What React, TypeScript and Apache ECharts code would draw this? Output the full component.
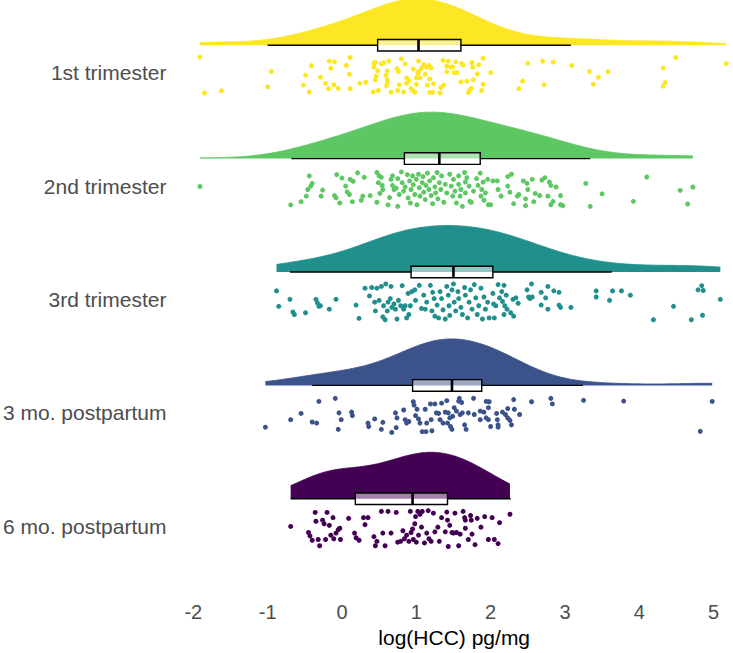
import { useEffect, useRef } from "react";
import * as echarts from "echarts";

const groups = ["1st trimester", "2nd trimester", "3rd trimester", "3 mo. postpartum", "6 mo. postpartum"];
const colors = ["#FDE725", "#5DC863", "#21908C", "#3B528B", "#440154"];

// each point: [log(HCC), vertical jitter from -1 (top) to 1 (bottom)]
const firstTrimester = [
  [-1.91, -1.0], [-1.85, 1.0], [-1.62, 0.88], [-1.0, 0.66], [-0.95, -0.2], [-0.52, 0.56], [-0.49, 0], [-0.44, 0.94],
  [-0.41, -0.52], [-0.29, 0.12], [-0.22, 0.46], [-0.18, 0.76], [-0.17, -0.78], [-0.15, -0.38], [-0.1, -0.74], [-0.11, 0.54],
  [-0.05, 0.74], [0.06, -0.54], [0.1, -0.04], [0.11, -0.98], [0.11, 0.76], [0.24, 0.46], [0.32, 0.4], [0.42, 0.94],
  [0.43, -0.66], [0.45, -0.7], [0.43, -0.44], [0.46, 0.06], [0.45, 0.26], [0.48, -0.24], [0.49, 0.86], [0.53, -0.62],
  [0.56, -0.68], [0.59, 0.02], [0.6, 0.6], [0.61, -0.22], [0.61, 0.26], [0.61, 0.42], [0.63, -0.78], [0.66, 0.96],
  [0.74, -0.36], [0.75, 0.86], [0.76, -0.2], [0.77, 0.54], [0.8, -0.9], [0.83, 0.94], [0.85, -0.62], [0.87, 0.16],
  [0.87, 0.46], [0.9, 0.32], [0.93, 0.76], [0.95, 0.86], [0.96, -0.34], [0.98, 0.96], [1.0, 0.52], [1.0, 0.16],
  [1.02, -0.08], [1.03, -0.78], [1.03, -0.2], [1.05, 0.16], [1.07, -0.38], [1.1, -0.58], [1.12, -0.04], [1.14, -0.44],
  [1.15, 0.56], [1.17, -0.54], [1.18, 0.22], [1.18, 0.98], [1.2, -0.4], [1.22, 0.96], [1.23, 0.48], [1.32, 1.0],
  [1.33, 0.7], [1.36, -0.82], [1.37, 0.56], [1.41, -0.5], [1.41, -0.18], [1.43, -0.78], [1.46, -0.44], [1.49, -0.46],
  [1.51, -0.14], [1.53, -0.74], [1.55, -0.14], [1.6, 0.38], [1.61, -0.64], [1.63, -0.56], [1.68, 0.34], [1.7, 0.98],
  [1.72, 0.82], [1.74, 0.74], [1.75, -0.7], [1.76, -0.44], [1.77, 0.26], [1.82, -0.06], [1.84, -0.58], [1.88, 0.86],
  [1.9, -0.94], [1.9, 0.52], [2.0, -0.14], [2.38, 0.76], [2.43, 0.34], [2.5, -0.66], [2.7, -0.78], [2.72, 0.54],
  [2.84, -0.72], [3.09, -0.54], [3.33, -0.2], [3.38, 0.52], [3.45, 0.12], [3.58, -0.18], [4.32, -0.4], [4.32, 0.62],
  [4.35, 0.42], [4.49, -0.98], [5.17, -0.64],
];

const secondTrimester = [
  [-1.91, -0.11], [-0.69, 0.92], [-0.55, 0.74], [-0.48, 0.43], [-0.46, 0.06], [-0.44, -0.7], [-0.42, -0.13], [-0.4, -0.28],
  [-0.28, 0.43], [-0.26, 0.09], [-0.1, 0.4], [-0.07, -0.77], [-0.08, 0.53], [-0.03, 0.81], [0.0, -0.58], [0.05, -0.13],
  [0.07, 0.19], [0.1, 0.34], [0.11, -0.51], [0.14, 0.74], [0.15, -0.4], [0.21, -0.87], [0.26, 0.66], [0.28, 0.43],
  [0.3, -0.62], [0.38, 0.4], [0.47, -0.89], [0.47, 0.77], [0.49, -0.32], [0.5, -0.7], [0.51, 0.28], [0.53, -0.62],
  [0.54, -0.17], [0.55, 0.06], [0.62, 0.92], [0.64, 0.51], [0.66, -0.51], [0.68, -0.17], [0.68, -0.7], [0.7, 0.06],
  [0.73, -0.02], [0.75, 1.0], [0.75, -0.55], [0.77, 0.34], [0.8, -0.92], [0.81, -0.32], [0.83, 0.15], [0.85, -0.09],
  [0.88, -0.77], [0.89, 0.53], [0.91, -0.42], [0.92, 0.81], [0.93, 0.06], [0.95, -0.7], [0.96, -0.21], [0.98, 0.34],
  [1.0, -0.51], [1.01, 0.91], [1.03, -0.79], [1.04, -0.04], [1.05, 0.43], [1.08, -0.32], [1.09, -0.66], [1.1, 0.21],
  [1.12, 0.62], [1.13, -0.17], [1.15, -0.85], [1.17, 0.06], [1.18, -0.42], [1.2, 0.4], [1.22, 0.85], [1.23, -0.6],
  [1.25, -0.09], [1.26, 0.25], [1.28, -0.89], [1.29, 0.58], [1.31, -0.32], [1.33, 0.06], [1.34, -0.7], [1.37, 0.77],
  [1.39, -0.23], [1.41, 0.25], [1.45, -0.79], [1.47, -0.13], [1.49, 0.43], [1.5, -0.51], [1.52, 0.15], [1.54, 0.81],
  [1.57, -0.7], [1.57, -0.23], [1.59, 0.43], [1.6, 0.06], [1.62, 1.0], [1.65, -0.89], [1.66, -0.36], [1.66, 0.25],
  [1.68, -0.6], [1.71, -0.13], [1.72, 0.72], [1.74, 0.77], [1.77, 0.15], [1.81, -0.55], [1.83, -0.17], [1.86, -0.85],
  [1.87, 0.43], [1.88, 0.06], [1.9, -0.36], [1.91, 0.66], [1.93, 0.25], [1.96, -0.51], [1.97, 0.91], [2.0, 0.91],
  [2.03, -0.42], [2.09, -0.42], [2.1, 0.06], [2.14, 0.43], [2.23, -0.66], [2.23, -0.13], [2.26, 0.21], [2.28, -0.79],
  [2.31, 0.85], [2.36, 0.43], [2.38, 0.34], [2.44, -0.42], [2.47, 0.58], [2.47, 0.96], [2.49, -0.28], [2.5, 0.06],
  [2.56, -0.51], [2.58, 0.74], [2.6, 0.28], [2.66, 0.4], [2.69, -0.47], [2.73, -0.6], [2.77, 0.43], [2.79, -0.36],
  [2.81, -0.17], [2.81, 0.91], [2.84, 0.72], [2.88, -0.08], [2.94, 0.4], [2.94, 0.91], [2.97, 0.96], [3.28, -0.28],
  [3.34, 1.0], [3.5, 0.3], [3.92, 0.72], [4.1, -0.64], [4.55, 0.11], [4.65, 0.87], [4.72, -0.08],
];

const thirdTrimester = [
  [-0.88, -0.61], [-0.85, 0.25], [-0.7, -0.14], [-0.66, 0.57], [-0.64, 0.71], [-0.49, 0.61], [-0.35, -0.14], [-0.33, 0.06],
  [-0.31, 0.25], [-0.29, 0.22], [-0.17, 0.41], [-0.08, -0.14], [0.19, 0.18], [0.23, 0.92], [0.31, -0.76], [0.37, -0.33],
  [0.4, -0.8], [0.44, 0.02], [0.45, 0.51], [0.47, -0.76], [0.5, -0.08], [0.53, -0.86], [0.55, 0.84], [0.56, 0.22],
  [0.58, 1.0], [0.59, -1.0], [0.61, 0.51], [0.62, 0.02], [0.65, -0.18], [0.66, -0.86], [0.67, 0.31], [0.7, 0.12],
  [0.72, 0.41], [0.74, 0.96], [0.76, -0.08], [0.79, 0.22], [0.81, -0.9], [0.83, 0.41], [0.85, 0.22], [0.87, 0.9],
  [0.89, -0.47], [0.9, 0.71], [0.92, 0.22], [0.94, -0.57], [0.98, -0.67], [0.99, -0.08], [1.04, -0.92], [1.07, 0.37],
  [1.1, -0.37], [1.12, 0.41], [1.14, 0.02], [1.19, -0.92], [1.21, 0.51], [1.22, -0.53], [1.24, -0.18], [1.25, 0.8],
  [1.28, 0.18], [1.3, 0.9], [1.32, -0.57], [1.34, -0.18], [1.36, 0.45], [1.39, 0.96], [1.41, -0.86], [1.43, -0.37],
  [1.44, 0.22], [1.45, 0.76], [1.48, -0.67], [1.5, -1.0], [1.51, 0.02], [1.53, 0.51], [1.56, -0.57], [1.57, -0.18],
  [1.6, 0.31], [1.62, 0.71], [1.65, -0.8], [1.66, -0.37], [1.69, 0.9], [1.71, 0.02], [1.73, -0.67], [1.75, 0.41],
  [1.78, -0.96], [1.8, -0.22], [1.82, 0.71], [1.84, 0.22], [1.87, -0.76], [1.89, 0.96], [1.91, -0.27], [1.93, 0.41],
  [1.96, 0.02], [1.98, 0.9], [2.03, -0.47], [2.04, 0.12], [2.05, 0.9], [2.07, 0.22], [2.1, -0.96], [2.12, -0.22],
  [2.15, -0.57], [2.16, -0.02], [2.18, -0.92], [2.18, 0.71], [2.19, 0.22], [2.21, -0.37], [2.22, 0.41], [2.27, 0.61],
  [2.3, -0.14], [2.31, 0.8], [2.34, -0.22], [2.37, 0.08], [2.49, -0.67], [2.51, -0.27], [2.53, -0.18], [2.55, -1.0],
  [2.56, -0.27], [2.68, -0.53], [2.68, 0.18], [2.74, -0.22], [2.77, -0.86], [2.77, 0.41], [2.85, -0.61], [2.92, -0.53],
  [2.92, 0.18], [2.94, 0.31], [3.08, 0.31], [3.42, -0.61], [3.42, -0.27], [3.6, -0.08], [3.64, -0.61], [3.76, -0.61],
  [3.88, -0.37], [4.19, 1.0], [4.46, 0.25], [4.7, 1.0], [4.79, -0.67], [4.84, -0.9], [4.86, -0.63], [4.85, 0.75],
  [5.09, -0.14],
];

const threeMonths = [
  [-1.03, 0.67], [-0.69, 0.25], [-0.55, -0.1], [-0.4, 0.38], [-0.34, 0.44], [-0.31, -0.77], [-0.09, -0.94], [-0.05, 0.79],
  [-0.04, -0.13], [-0.01, 0.25], [0.13, -0.17], [0.14, 0.02], [0.35, 0.44], [0.36, 0.63], [0.44, 0.21], [0.53, 0.79],
  [0.55, 0.4], [0.67, 0.96], [0.72, -0.13], [0.73, 0.69], [0.74, 0.15], [0.83, -0.29], [0.85, 0.25], [0.87, 0.44],
  [0.9, 0.35], [0.96, -0.75], [0.97, -0.56], [0.99, 0.02], [1.01, -0.33], [1.03, 0.21], [1.05, 0.44], [1.08, 0.92],
  [1.12, -0.33], [1.13, 0.92], [1.14, 0.44], [1.19, -0.63], [1.2, 0.25], [1.21, 0.87], [1.25, -0.63], [1.27, -0.13],
  [1.3, -0.1], [1.32, 0.25], [1.34, -0.67], [1.36, 0.44], [1.39, -0.17], [1.41, -0.81], [1.42, 0.44], [1.43, -0.13],
  [1.45, 0.15], [1.46, 0.63], [1.48, 0.79], [1.49, 0.06], [1.51, -0.42], [1.54, -0.23], [1.57, -0.79], [1.58, -0.94],
  [1.59, -0.04], [1.61, -0.71], [1.62, -0.13], [1.65, 0.54], [1.67, 0.79], [1.7, -0.13], [1.77, -0.94], [1.78, -0.04],
  [1.86, -0.23], [1.86, 0.25], [1.94, -0.77], [1.98, -0.75], [1.97, -0.42], [1.91, -0.17], [1.94, 0.15], [1.97, 0.25],
  [2.0, 0.63], [2.08, -0.1], [2.09, 0.25], [2.1, 0.54], [2.1, 0.67], [2.16, -0.17], [2.2, -0.04], [2.23, -0.37],
  [2.23, 0.15], [2.26, 0.29], [2.28, 0.54], [2.31, -0.87], [2.32, -0.33], [2.39, -0.04], [2.55, -0.75], [2.81, -0.94],
  [2.83, -0.63], [3.25, -0.83], [3.79, -0.79], [4.82, 0.9], [4.98, -0.77],
];

const sixMonths = [
  [-0.69, -0.12], [-0.45, 0.22], [-0.43, 0.41], [-0.4, 0.65], [-0.36, -0.9], [-0.35, -0.41], [-0.32, 0.61], [-0.3, 0.96],
  [-0.26, -0.47], [-0.24, -0.27], [-0.22, 0.61], [-0.2, -0.9], [-0.17, -0.18], [-0.15, 0.37], [-0.12, -0.61], [-0.11, 0.57],
  [-0.08, 0.25], [-0.05, 0.06], [-0.03, -0.02], [-0.02, 0.61], [0.09, -0.57], [0.17, 0.25], [0.19, 0.51], [0.23, 0.65],
  [0.29, -0.61], [0.31, -0.22], [0.35, -0.61], [0.43, 0.45], [0.45, 0.96], [0.47, 0.71], [0.53, -0.96], [0.55, 0.25],
  [0.58, 0.96], [0.62, -0.96], [0.66, 0.25], [0.73, -0.9], [0.75, 0.76], [0.79, 0.71], [0.82, 0.12], [0.84, 0.57],
  [0.87, 0.37], [0.9, 0.71], [0.92, -0.96], [0.93, 0.22], [0.95, 0.02], [0.96, 0.61], [0.98, -0.27], [0.99, -0.67],
  [1.0, 0.76], [1.02, -0.96], [1.03, 0.37], [1.05, -0.8], [1.07, -0.08], [1.08, -0.96], [1.11, 0.8], [1.14, 0.25],
  [1.16, -1.0], [1.17, 0.57], [1.2, 0.71], [1.23, -0.86], [1.25, 0.18], [1.29, -0.08], [1.31, 0.71], [1.34, -0.61],
  [1.39, 0.18], [1.41, -0.92], [1.42, -0.47], [1.43, 1.0], [1.45, -0.18], [1.48, 0.22], [1.5, 0.25], [1.52, -0.86],
  [1.54, 0.22], [1.57, 0.96], [1.59, 0.31], [1.63, -0.96], [1.65, -0.61], [1.66, -0.47], [1.66, -0.02], [1.7, 0.61],
  [1.73, -0.73], [1.74, -0.47], [1.75, 0.31], [1.79, 0.9], [1.82, -0.57], [1.87, -0.08], [1.92, -0.67], [1.97, 0.61],
  [2.02, -0.61], [2.05, 0.61], [2.1, 0.84], [2.12, -0.33], [2.26, -0.8],
];

const groupPoints = [firstTrimester, secondTrimester, thirdTrimester, threeMonths, sixMonths];

// box plot statistics
const boxLow = [-1.0, -0.68, -0.7, -0.4, -0.69];
const boxQ1 = [0.48, 0.84, 0.93, 0.95, 0.18];
const boxMedian = [1.03, 1.31, 1.5, 1.48, 0.95];
const boxQ3 = [1.6, 1.86, 2.03, 1.88, 1.42];
const boxHigh = [3.08, 3.34, 3.63, 3.24, 2.27];

const FONT = "'Liberation Sans', Arial, Helvetica, sans-serif";
const BASE_OFF = 0.243; // density baseline above the label row
const PT_OFF = -0.02; // centre of the jittered points
const JITTER = 0.158; // half-height of the rain
const CLOUD_H = 0.41; // height of the density cloud
const ADJUST = 1.5;

// gaussian kernel density, trimmed to the data range (like ggplot's trim = TRUE)
function density(values: number[], n = 160) {
  const s = [...values].sort((a, b) => a - b);
  const N = s.length;
  const mean = s.reduce((a, b) => a + b, 0) / N;
  const sd = Math.sqrt(s.reduce((a, b) => a + (b - mean) ** 2, 0) / (N - 1));
  const q = (p: number) => {
    const h = (N - 1) * p;
    const lo = Math.floor(h);
    return s[lo] + (h - lo) * ((s[lo + 1] ?? s[lo]) - s[lo]);
  };
  const iqr = q(0.75) - q(0.25);
  const bw = 0.9 * Math.min(sd, iqr / 1.34) * Math.pow(N, -0.2) * ADJUST;
  const out: number[][] = [];
  for (let i = 0; i < n; i++) {
    const x = s[0] + ((s[N - 1] - s[0]) * i) / (n - 1);
    let d = 0;
    for (const v of s) d += Math.exp(-0.5 * ((x - v) / bw) ** 2);
    out.push([x, d / (N * bw * Math.sqrt(2 * Math.PI))]);
  }
  return out;
}

const App = () => {
  const chartRef = useRef<HTMLDivElement>(null);

  useEffect(() => {
    if (!chartRef.current) return;
    const chart = echarts.init(chartRef.current, null, { renderer: "svg" });

    const row = (i: number) => groups.length - 1 - i;

    const clouds = groupPoints.map((pts, i) => {
      const base = row(i) + BASE_OFF;
      const dens = density(pts.map((p) => p[0]));
      const maxD = Math.max(...dens.map((d) => d[1]));
      return {
        type: "line",
        data: dens.map(([x, d]) => [x, base + (d / maxD) * CLOUD_H]),
        showSymbol: false,
        silent: true,
        clip: false,
        z: 1,
        lineStyle: { color: colors[i], width: 0.8 },
        areaStyle: { color: colors[i], opacity: 1, origin: base },
      };
    });

    const rain = groupPoints.map((pts, i) => ({
      type: "scatter",
      data: pts.map(([x, j]) => [x, row(i) + PT_OFF - j * JITTER]),
      symbolSize: 5,
      silent: true,
      clip: false,
      z: 2,
      itemStyle: { color: colors[i], opacity: 1 },
    }));

    const boxes = {
      type: "custom",
      z: 3,
      silent: true,
      clip: false,
      encode: { x: [1, 2, 3, 4, 5], y: 0 },
      data: groups.map((_, i) => [row(i), boxLow[i], boxQ1[i], boxMedian[i], boxQ3[i], boxHigh[i]]),
      renderItem: (_params: any, api: any) => {
        const base = api.value(0) + BASE_OFF;
        const px = (k: number) => api.coord([api.value(k), base]);
        const [xLo, y] = px(1);
        const [xQ1] = px(2);
        const [xMed] = px(3);
        const [xQ3] = px(4);
        const [xHi] = px(5);
        const hh = 5.8;
        const stroke = { stroke: "#000", lineWidth: 1.3 };
        return {
          type: "group",
          children: [
            { type: "line", shape: { x1: xLo, y1: y, x2: xQ1, y2: y }, style: stroke },
            { type: "line", shape: { x1: xQ3, y1: y, x2: xHi, y2: y }, style: stroke },
            {
              type: "rect",
              shape: { x: xQ1, y: y - hh, width: xQ3 - xQ1, height: hh * 2 },
              style: { fill: "rgba(255,255,255,0.5)", stroke: "#000", lineWidth: 1.4 },
            },
            { type: "line", shape: { x1: xMed, y1: y - hh, x2: xMed, y2: y + hh }, style: { stroke: "#000", lineWidth: 2.6 } },
          ],
        };
      },
    };

    const option = {
      animation: false,
      backgroundColor: "#fff",
      textStyle: { fontFamily: FONT },
      grid: { left: 178, top: 0, width: 555, height: 590 },
      xAxis: {
        type: "value",
        min: -2.2,
        max: 5.22,
        minInterval: 1,
        maxInterval: 1,
        name: "log(HCC) pg/mg",
        nameLocation: "middle",
        nameGap: 34,
        nameTextStyle: { color: "#000", fontSize: 21, fontFamily: FONT },
        axisLine: { show: false },
        axisTick: { show: false },
        splitLine: { show: false },
        axisLabel: {
          color: "#4D4D4D",
          fontSize: 20,
          margin: 14,
          fontFamily: FONT,
          formatter: (v: number) => (Number.isInteger(v) ? String(v) : ""),
        },
      },
      yAxis: {
        type: "value",
        min: -0.545,
        max: 4.642,
        minInterval: 1,
        maxInterval: 1,
        axisLine: { show: false },
        axisTick: { show: false },
        splitLine: { show: false },
        axisLabel: {
          color: "#4D4D4D",
          fontSize: 21,
          margin: 12,
          fontFamily: FONT,
          formatter: (v: number) => (Number.isInteger(v) ? groups[groups.length - 1 - v] ?? "" : ""),
        },
      },
      series: [...clouds, ...rain, boxes],
    };

    chart.setOption(option as any);
    return () => {
      chart.dispose();
    };
  }, []);

  return (
    <div
      ref={chartRef}
      style={{ position: "fixed", left: 0, top: 0, width: 733, height: 653, background: "#fff" }}
    />
  );
};

export default App;
